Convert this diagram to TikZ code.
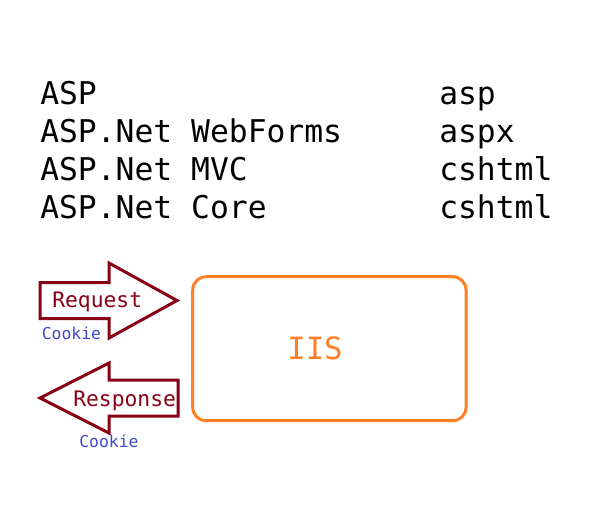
\documentclass[tikz,border=0pt]{standalone}
\usepackage{fontspec}
\setmonofont{DejaVu Sans Mono}
\definecolor{burgundy}{RGB}{136,0,21}
\definecolor{paintorange}{RGB}{255,127,39}
\definecolor{indigo}{RGB}{63,72,204}
\begin{document}
\begin{tikzpicture}[x=0.75pt,y=-0.75pt,line join=miter,font=\ttfamily,
    big/.style={anchor=base west,inner sep=0pt,font=\ttfamily\fontsize{23.5}{28}\selectfont},
    arrowline/.style={draw=burgundy,line width=2.25pt},
    msg/.style={anchor=base west,inner sep=0pt,text=burgundy,font=\ttfamily\fontsize{16}{19}\selectfont},
    cookie/.style={anchor=base west,inner sep=0pt,text=indigo,font=\ttfamily\fontsize{12.3}{15}\selectfont},
    server/.style={draw=paintorange,line width=2.25pt,rounded corners=10pt,minimum width=205pt,minimum height=108pt}]
    \useasboundingbox (0,0) rectangle (615,518);
    \foreach \tech/\ext [count=\i] in {ASP/asp,ASP.Net WebForms/aspx,ASP.Net MVC/cshtml,ASP.Net Core/cshtml}{
        \node[big] (tech\i) at (40,{104+38.3*(\i-1)}) {\tech};
        \node[big] (ext\i) at (439,{104+38.3*(\i-1)}) {\ext};
    }
    \draw[arrowline] (40,282.5)--(109,282.5)--(109,263)--(177,300.5)--(109,338)--(109,318.5)--(40,318.5)--cycle;
    \draw[arrowline] (178,380)--(109,380)--(109,363)--(40,398)--(109,433)--(109,416)--(178,416)--cycle;
    \node[msg] (request) at (52,307) {Request};
    \node[msg] (response) at (73,406) {Response};
    \node[cookie] (cookie1) at (41.5,339) {Cookie};
    \node[cookie] (cookie2) at (79,447) {Cookie};
    \node[server] (iis) at (329.4,348.7) {};
    \node[text=paintorange,font=\ttfamily\fontsize{23}{28}\selectfont] (iislabel) at (315,348) {IIS};
\end{tikzpicture}
\end{document}
